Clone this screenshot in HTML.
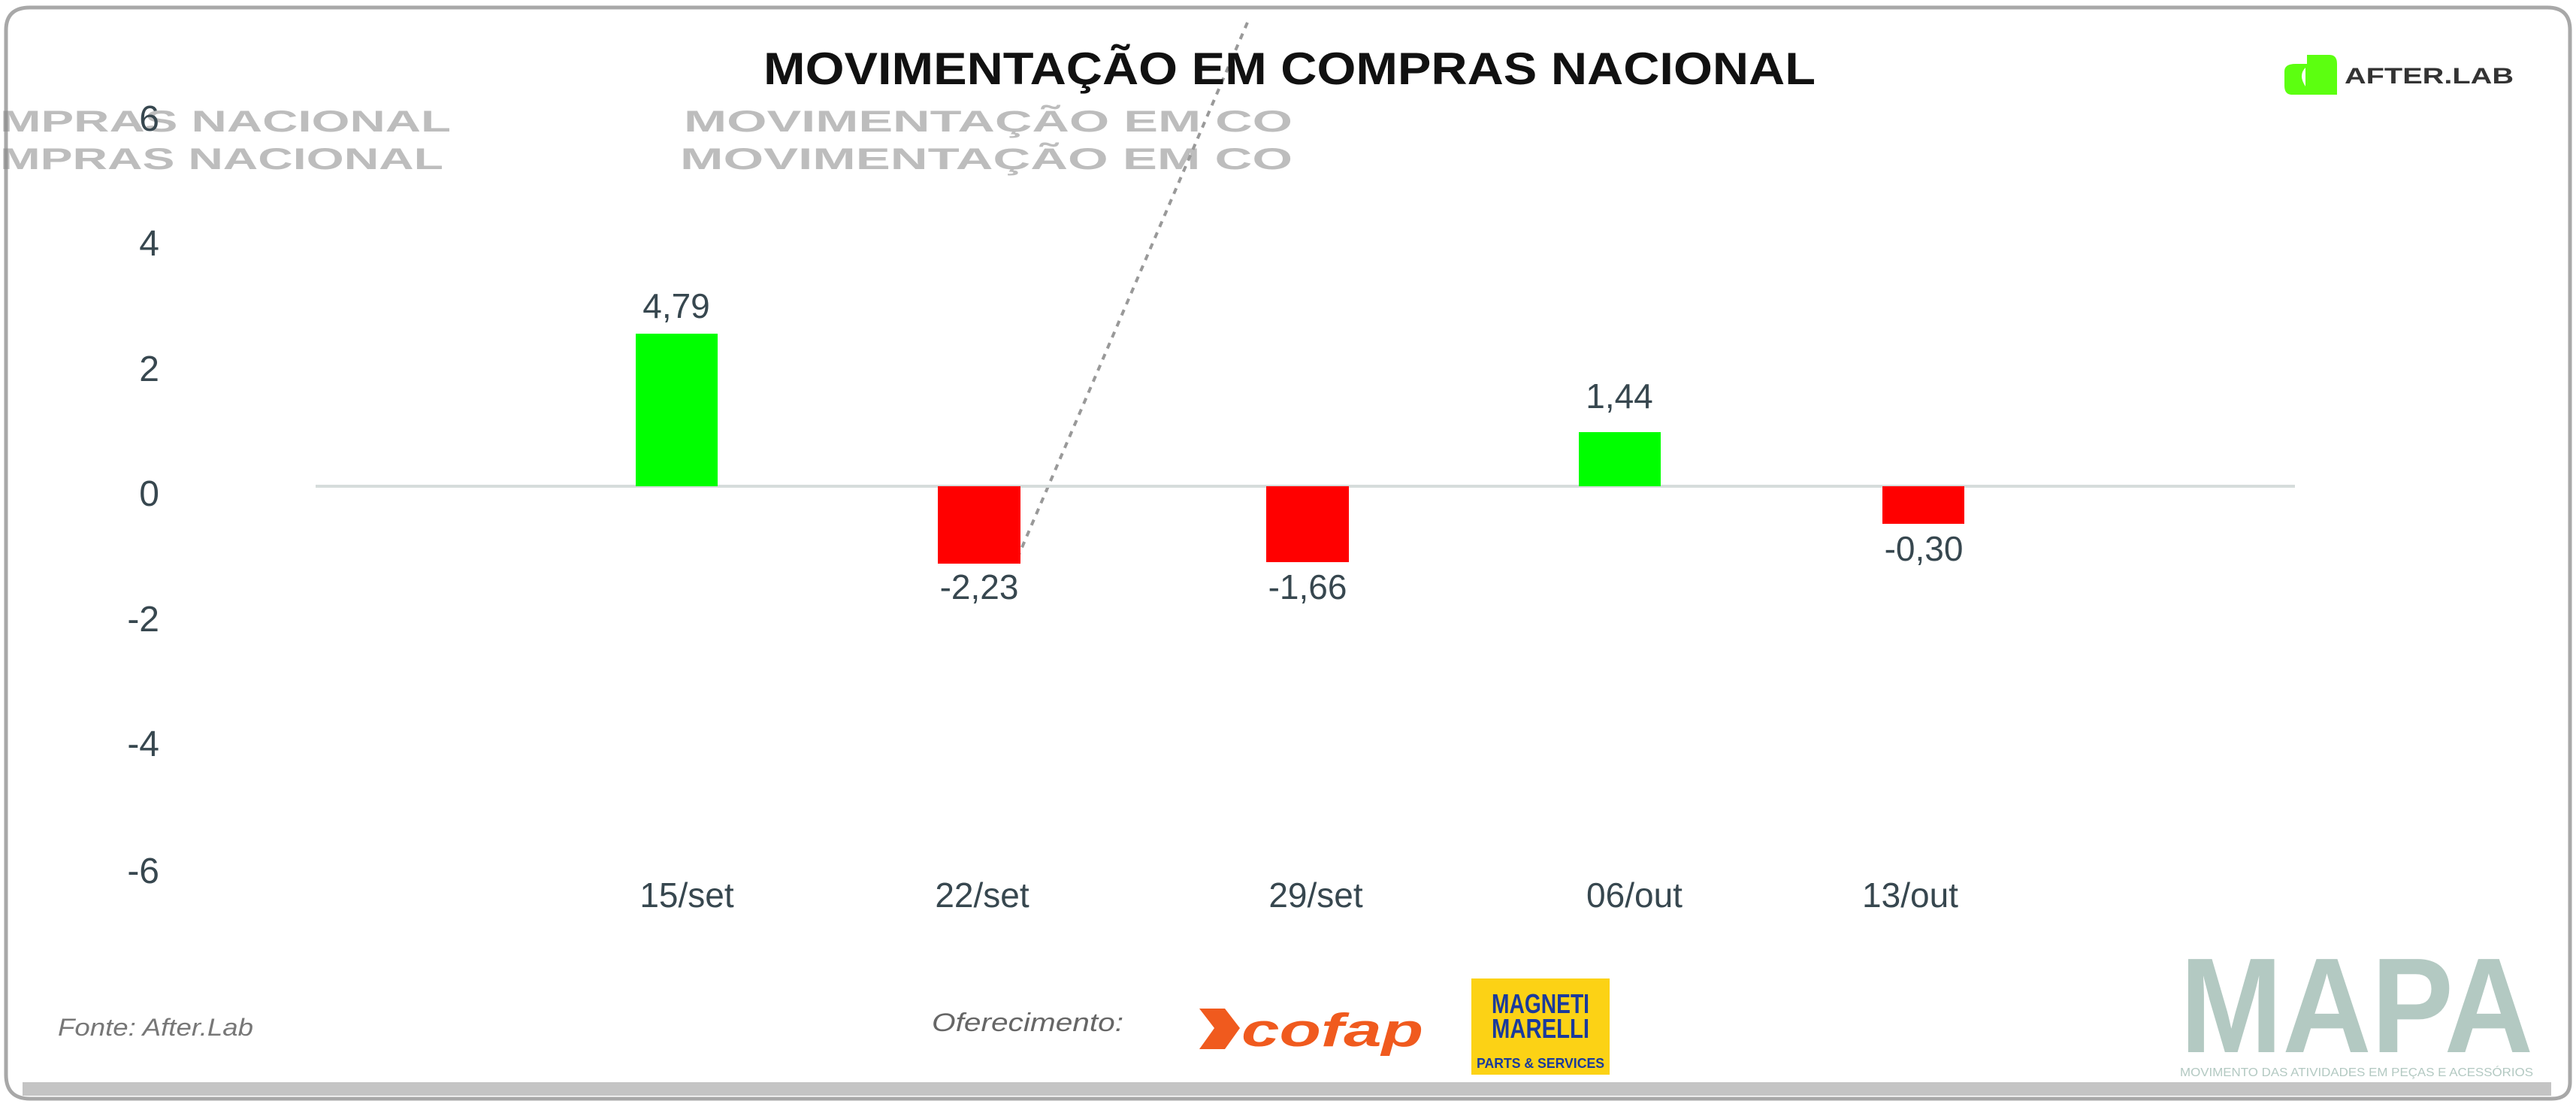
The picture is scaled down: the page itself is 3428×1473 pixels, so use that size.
<!DOCTYPE html>
<html><head><meta charset="utf-8"><style>
html,body{margin:0;padding:0;background:#fff;}
svg{display:block;}
</style></head><body>
<svg width="3428" height="1473" viewBox="0 0 3428 1473" xmlns="http://www.w3.org/2000/svg" font-family="Liberation Sans, sans-serif">
<rect width="3428" height="1473" fill="#fff"/>
<!-- frame -->
<path d="M40 10 H3390 Q3420 10 3420 40 V1440 Q3420 1462 3395 1462 H40 Q8 1462 8 1430 V40 Q8 10 40 10Z" fill="none" stroke="#a8a8a8" stroke-width="5"/>
<rect x="30" y="1440" width="3365" height="18" fill="#c4c4c4"/>
<!-- ghost artifacts -->
<g fill="#888" font-weight="bold" opacity="0.55" font-size="40">
<text x="0" y="175" textLength="600" lengthAdjust="spacingAndGlyphs">MPRAS NACIONAL</text>
<text x="0" y="225" textLength="590" lengthAdjust="spacingAndGlyphs">MPRAS NACIONAL</text>
<text x="910" y="175" textLength="810" lengthAdjust="spacingAndGlyphs">MOVIMENTAÇÃO EM CO</text>
<text x="905" y="225" textLength="815" lengthAdjust="spacingAndGlyphs">MOVIMENTAÇÃO EM CO</text>
</g>
<line x1="1660" y1="30" x2="1355" y2="740" stroke="#999" stroke-width="4" stroke-dasharray="8 8"/>
<!-- title -->
<text x="1716" y="112" text-anchor="middle" font-size="60" font-weight="bold" fill="#111" textLength="1400" lengthAdjust="spacingAndGlyphs">MOVIMENTAÇÃO EM COMPRAS NACIONAL</text>
<!-- logo -->
<path d="M3070 73 H3100 Q3110 73 3110 85 V126 H3050 Q3040 126 3040 114 V95 Q3040 85 3055 85 H3070Z" fill="#5cff10"/>
<path d="M3068 90 Q3058 100 3068 115 Z" fill="#fff"/>
<text x="3120" y="111" font-size="30" font-weight="bold" fill="#333" textLength="225" lengthAdjust="spacingAndGlyphs">AFTER.LAB</text>
<!-- y axis -->
<g font-size="48" fill="#37474f" text-anchor="end">
<text x="212" y="174">6</text>
<text x="212" y="340">4</text>
<text x="212" y="507">2</text>
<text x="212" y="673">0</text>
<text x="212" y="840">-2</text>
<text x="212" y="1006">-4</text>
<text x="212" y="1175">-6</text>
</g>
<line x1="420" y1="647" x2="3054" y2="647" stroke="#d6dcdb" stroke-width="4"/>
<!-- bars -->
<rect x="846" y="444" width="109" height="203" fill="#00ff00"/>
<rect x="1248" y="647" width="110" height="103" fill="#ff0000"/>
<rect x="1685" y="647" width="110" height="101" fill="#ff0000"/>
<rect x="2101" y="575" width="109" height="72" fill="#00ff00"/>
<rect x="2505" y="647" width="109" height="50" fill="#ff0000"/>
<g font-size="46" fill="#37474f" text-anchor="middle">
<text x="900" y="423">4,79</text>
<text x="1303" y="797">-2,23</text>
<text x="1740" y="797">-1,66</text>
<text x="2155" y="543">1,44</text>
<text x="2560" y="746">-0,30</text>
<text x="914" y="1207">15/set</text>
<text x="1307" y="1207">22/set</text>
<text x="1751" y="1207">29/set</text>
<text x="2175" y="1207">06/out</text>
<text x="2542" y="1207">13/out</text>
</g>
<!-- footer -->
<text x="77" y="1378" font-size="32" font-style="italic" fill="#777" textLength="260" lengthAdjust="spacingAndGlyphs">Fonte: After.Lab</text>
<text x="1240" y="1372" font-size="34" font-style="italic" fill="#666" textLength="255" lengthAdjust="spacingAndGlyphs">Oferecimento:</text>
<path d="M1596 1342 H1630 L1650 1368 L1630 1396 H1596 L1616 1368Z" fill="#f05a1e"/>
<path d="M1603 1360 L1612 1368 L1603 1378Z" fill="#fff"/>
<text x="1652" y="1392" font-size="62" font-weight="bold" font-style="italic" fill="#f05a1e" textLength="242" lengthAdjust="spacingAndGlyphs">cofap</text>
<rect x="1958" y="1302" width="184" height="128" fill="#fcd215"/>
<text x="2050" y="1348" text-anchor="middle" font-size="36" font-weight="bold" fill="#1a3a9c" textLength="130" lengthAdjust="spacingAndGlyphs">MAGNETI</text>
<text x="2050" y="1381" text-anchor="middle" font-size="36" font-weight="bold" fill="#1a3a9c" textLength="130" lengthAdjust="spacingAndGlyphs">MARELLI</text>
<text x="2050" y="1421" text-anchor="middle" font-size="18" font-weight="bold" fill="#1a3a9c" textLength="170" lengthAdjust="spacingAndGlyphs">PARTS &amp; SERVICES</text>
<text x="2901" y="1400" font-size="180" font-weight="bold" fill="#b3c9c2" textLength="470" lengthAdjust="spacingAndGlyphs">MAPA</text>
<text x="2901" y="1432" font-size="16" fill="#b3c9c2" textLength="470" lengthAdjust="spacingAndGlyphs">MOVIMENTO DAS ATIVIDADES EM PEÇAS E ACESSÓRIOS</text>
</svg>
</body></html>
